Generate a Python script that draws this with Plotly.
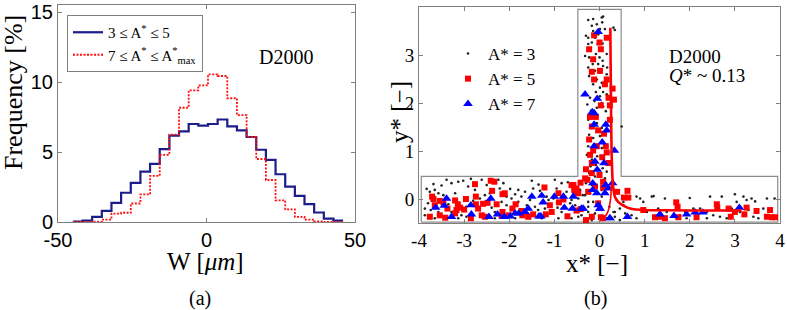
import plotly.graph_objects as go

# ---------------- panel (a): histogram of W ----------------
bin_edges = [-45.0, -41.75, -38.5, -35.25, -32.0, -28.75, -25.5, -22.25, -19.0, -15.75,
             -12.5, -9.25, -6.0, -2.75, 0.5, 3.75, 7.0, 10.25, 13.5, 16.75,
             20.0, 23.25, 26.5, 29.75, 33.0, 36.25, 39.5, 42.75, 46.0]
freq_low = [0.02, 0.1, 0.36, 0.79, 1.37, 2.09, 2.8, 3.6, 4.15, 5.2, 6.17, 6.47, 7.0, 6.88,
            7.0, 7.32, 6.83, 6.55, 6.07, 5.16, 4.44, 3.41, 2.52, 1.87, 1.27, 0.68, 0.24, 0.1]
freq_high = [0.0, 0.0, 0.02, 0.17, 0.6, 0.66, 1.32, 1.97, 3.29, 4.8, 6.24, 8.16, 9.4, 9.76,
             10.55, 10.43, 8.84, 7.64, 6.07, 4.5, 3.0, 1.55, 0.9, 0.36, 0.17, 0.05, 0.0, 0.0]
a_xticks = [-50, 0, 50]
a_xticktext = ["-50", "0", "50"]
a_yticks = [0, 5, 10, 15]

# ---------------- panel (b): particle positions ----------------
dots_x = [-0.25, -0.14, 0.05, 0.08, -0.17, -0.06, 0.06, 0.01, -0.14, -0.3, -0.25, -0.1, -0.03, 0.31, 0.34, 0.12,
          -0.25, -0.17, -0.04, 0.07, -0.32, -0.23, -0.08, 0.0, 0.07, 0.16, -0.15, -0.03, 0.08, 0.17, -0.25, -0.1,
          0.01, 0.16, -0.23, -0.06, 0.05, 0.16, -0.14, 0.01, -0.08, 0.08, 0.16, -0.21, -0.11, 0.01, 0.05, 0.08,
          0.14, -0.27, -0.19, -0.06,
          -0.25, -0.17, -0.06, 0.05, -0.23, -0.14, 0.01, 0.12, -0.25, -0.1, 0.05, 0.16, -0.28, -0.17, -0.05, -0.2,
          -0.08, 0.07, -0.23, -0.1, 0.01, 0.16, -0.3, -0.17, -0.43, -0.37, -0.21, -0.06, 0.05, 0.16, -0.14, -0.03,
          -0.25, -0.36, -0.1, 0.05, 0.22, 0.31, -0.47, -0.17, 0.16, 0.49, 0.38, 0.53, 0.82, 0.34, 0.45,
          -3.83, -3.76, -3.65, -3.57, -3.39, -3.28, -3.13, -3.02, -2.91, -2.61, -2.5, -2.24, -2.13, -2.21, -1.98,
          -1.87, -1.8, -1.65, -1.5, -1.47, -1.32, -1.17, -0.99, -0.95, -0.84, -0.73, -0.65, -3.8, -3.87, -3.74,
          -3.57, -3.35, -3.28, -3.06, -2.95, -2.8, -2.65, -2.54, -2.39, -2.32, -2.17, -2.06, -1.95, -1.8, -1.61,
          -1.54, -1.43, -1.36, -1.13, -1.02, -0.93, -0.84, -0.73, -0.62, -0.47, -0.4, -3.87, -3.65, -3.13, -2.95,
          -2.32, -1.87, -1.54, -1.28, -0.91, -0.62, -0.54, -0.47, -0.32, -0.25, -0.25, -0.17, -3.46, -3.2, -2.76,
          -2.43, -1.73, -1.21, -2.06, -3.68, -3.5, -2.85, -1.35, -0.7,
          0.12, 0.08, 0.05, 0.42, 0.53, 0.57, 0.71, 0.9, 0.97, 1.16, 1.3, 1.45, 1.49, 1.78, 1.9, 2.08, 2.23,
          2.38, 2.52, 2.6, 2.67, 2.71, 2.82, 2.93, 3.11, 3.19, 3.26, 3.3, 3.37, 3.41, 3.52, 3.63, 3.71, 3.88,
          3.04, 2.38, 1.93, 1.71, 1.05, 0.82, 0.45, 0.34, 2.45, 3.0, 3.45, 1.2, 2.0]
dots_y = [3.73, 3.75, 3.78, 3.8, 3.61, 3.64, 3.68, 3.54, 3.5, 3.4, 3.36, 3.36, 3.43, 3.57, 3.52, 3.54,
          3.23, 3.26, 3.23, 3.24, 2.98, 2.95, 3.02, 2.95, 2.88, 3.02, 2.81, 2.81, 2.77, 2.74, 2.74, 2.67,
          2.63, 2.6, 2.56, 2.49, 2.42, 2.49, 2.39, 2.32, 2.23, 2.23, 2.18, 2.11, 2.04, 2.14, 2.0, 1.93,
          1.83, 1.97, 1.84, 1.9,
          1.65, 1.51, 1.58, 1.48, 1.34, 1.27, 1.31, 1.38, 1.1, 1.13, 1.06, 1.13, 0.92, 0.82, 0.89, 0.68,
          0.71, 0.64, 0.54, 0.47, 0.54, 0.57, 0.33, 0.29, 0.19, 0.08, 0.12, 0.15, 0.05, 0.12, -0.06, -0.13,
          -0.16, -0.23, -0.3, -0.23, -0.16, -0.27, -0.37, -0.44, -0.4, 1.51, -0.02, -0.06, 0.05, -0.37, -0.44,
          0.21, 0.15, 0.19, 0.12, 0.4, 0.33, 0.36, 0.38, 0.26, 0.4, 0.29, 0.4, 0.33, 0.22, 0.21,
          0.1, 0.19, 0.15, 0.38, 0.22, 0.17, 0.05, 0.4, 0.22, 0.33, 0.15, -0.09, -0.09, -0.2, -0.23,
          -0.27, -0.11, -0.27, -0.34, -0.16, -0.04, 0.01, 0.08, -0.18, -0.27, -0.06, -0.13, 0.01, -0.06, -0.13,
          -0.02, -0.16, -0.23, -0.02, 0.01, -0.18, -0.27, -0.34, -0.02, -0.27, -0.34, -0.34, -0.4, -0.4, -0.37,
          -0.4, -0.4, -0.4, -0.4, -0.4, -0.4, -0.13, 0.01, 0.08, -0.06, -0.27, -0.37, 0.08, 0.12, 0.19,
          0.12, 0.05, -0.2, 0.05, 0.31, 0.28, 0.42, 0.3, 0.35,
          0.43, 0.33, 0.19, 0.15, -0.13, -0.3, -0.34, 0.01, -0.06, 0.05, -0.2, 0.01, -0.27, -0.34, -0.27, -0.2, -0.2,
          -0.27, -0.34, -0.2, -0.37, 0.05, -0.4, -0.2, -0.27, 0.05, -0.02, -0.23, 0.01, -0.37, -0.4, -0.2, 0.01, 0.01,
          -0.06, -0.4, -0.4, -0.4, -0.27, -0.4, -0.2, -0.27, 0.05, 0.1, -0.05, 0.06, 0.02]

sq_x = [-0.12, 0.16, 0.0, -0.23, 0.03, -0.14, -0.17, 0.01, -0.12, 0.12, 0.16, 0.29, 0.2, 0.32, 0.03, 0.23,
        -0.21, -0.08, 0.23, -0.17, -0.03, 0.1, -0.23, -0.06, 0.14, -0.14, 0.16, -0.21, 0.06, -0.17, 0.2, -0.3,
        -0.17, 0.0, 0.08, -0.42, -0.59, -0.56, -0.25, -0.47, 0.39, 0.62, -0.03, -0.17, 0.03, 0.07,
        -2.76, -2.41, -2.33, -2.38, -2.15, -2.1, -2.74, -2.96, -3.2, -3.54, -3.71, -3.68, -3.46, -3.14, -2.74,
        -2.58, -2.48, -3.09, -3.37, -3.65, -3.17, -3.2, -3.0, -2.69, -2.61, -2.85, -2.28, -2.15, -1.93, -2.01,
        -1.86, -1.73, -1.71, -2.17, -3.76, -3.54, -3.42, -2.54, -1.58, -1.47, -1.19, -1.1, -1.22, -0.9, -0.91,
        -0.8, -0.58, -0.51, -0.54, -0.42, -1.06, -0.62, -0.32, -0.27, -0.1, 0.08, 0.64, -0.51, -0.71, -0.3,
        0.54, 0.97, 1.23, 1.34, 1.7, 1.73, 1.75, 2.15, 2.6, 2.61, 2.86, 2.91, 3.0, 3.21, 3.26, 3.48, 3.78,
        3.71, 3.82, 3.89, 1.45]
sq_y = [3.41, 3.36, 3.26, 3.12, 3.12, 2.91, 2.65, 2.67, 2.49, 2.39, 2.49, 2.3, 2.11, 2.07, 1.95, 1.95,
        1.71, 1.71, 1.65, 1.51, 1.43, 1.36, 1.24, 1.1, 1.1, 1.01, 0.97, 0.92, 0.87, 0.75, 0.75, 0.62,
        0.54, 0.5, 0.36, 0.34, 0.29, 0.19, 0.15, 0.12, 0.15, 0.17, -0.09, -0.37, -0.38, -0.4,
        0.31, 0.38, 0.36, 0.17, 0.1, 0.12, 0.05, 0.0, -0.03, -0.04, 0.05, 0.0, -0.07, -0.11, -0.11,
        -0.1, -0.08, -0.18, -0.2, -0.13, -0.23, -0.3, -0.22, -0.2, -0.34, -0.4, -0.11, -0.27, -0.2, -0.34,
        -0.11, -0.25, -0.34, -0.35, -0.37, -0.34, -0.39, -0.37, -0.37, -0.32, -0.32, -0.13, 0.24, -0.07, 0.12,
        -0.01, 0.29, 0.22, 0.14, -0.21, -0.27, 0.29, 0.43, 0.4, 0.26, 0.24, 0.03, -0.24, -0.36, -0.44,
        0.03, -0.23, -0.38, -0.37, -0.07, -0.16, -0.38, -0.38, -0.11, -0.18, -0.2, -0.37, -0.27, -0.32, -0.18,
        -0.25, -0.23, -0.37, -0.38, -0.38, -0.4]

tri_x = [-0.03, -0.32, -0.05, -0.16, -0.12, -0.12, 0.14, 0.16, 0.06, -0.12, 0.33, -0.1, 0.1, -0.05, -0.15,
         0.14, -0.15, -0.06, 0.2, -0.03, 0.01, 0.23, -0.4,
         -3.39, -3.44, -3.63, -3.28, -2.85, -2.84, -2.45, -2.41, -2.26, -2.11, -1.98, -1.87, -1.79, -1.65,
         -1.58, -1.5, -1.34, -1.3, -1.28, -1.25, -1.0, -0.8, -0.78, -0.58, -0.6, -0.36,
         0.29, 0.12, 0.23, 0.01, 0.62, 1.34, 1.65, 1.93, 2.12, 2.29, 3.1]
tri_y = [3.48, 2.18, 2.09, 1.81, 1.79, 1.55, 1.55, 1.43, 1.18, 1.1, 1.01, 0.78, 0.75, 0.61, 0.33,
         0.29, 0.19, 0.12, 0.22, -0.13, -0.2, -0.4, -0.2,
         0.01, -0.14, -0.18, -0.37, -0.13, -0.32, -0.37, 0.01, -0.32, -0.37, -0.36, -0.3, -0.3, -0.27,
         -0.2, 0.05, -0.36, -0.36, 0.07, -0.07, 0.05, 0.05, -0.18, 0.05, -0.2, -0.2,
         0.33, 0.12, -0.4, -0.2, -0.37, -0.32, -0.35, -0.32, -0.28, -0.28, -0.18]

# red trajectory (main path and lower branch)
path_x = [0.24, 0.25, 0.26, 0.27, 0.28, 0.29, 0.31, 0.34, 0.39, 0.45, 0.55, 0.68, 0.82, 0.97, 1.5, 2.5, 3.15]
path_y = [3.57, 2.5, 1.5, 0.9, 0.6, 0.4, 0.2, 0.05, -0.03, -0.09, -0.15, -0.2, -0.22, -0.23, -0.235, -0.24, -0.24]
branch_x = [0.26, 0.25, 0.22, 0.18, 0.13, 0.07, 0.02]
branch_y = [0.3, 0.05, -0.15, -0.28, -0.36, -0.42, -0.45]

# T-junction channel outline
chan_x = [-3.95, 3.95, 3.95, 0.48, 0.48, -0.48, -0.48, -3.95, -3.95]
chan_y = [-0.48, -0.48, 0.47, 0.47, 3.95, 3.95, 0.47, 0.47, -0.48]

b_xticks = [-4, -3, -2, -1, 0, 1, 2, 3, 4]
b_xticktext = ["-4", "-3", "-2", "-1", "0", "1", "2", "3", "4"]
b_yticks = [0, 1, 2, 3, 4]

W, H = 787, 310
def px(x):
    return x / W
def py(y):
    return 1 - y / H

FRAME = "#808080"
TIMES = "Liberation Serif, Times New Roman, serif"
ARIAL = "Liberation Sans, Arial, sans-serif"

fig = go.Figure()

fig.add_trace(go.Scatter(x=bin_edges, y=freq_low + [freq_low[-1]], mode="lines", line_shape="hv",
                         line=dict(color="#1c1c8a", width=2.2),
                         name="3 ≤ A<sup>*</sup> ≤ 5", legend="legend", xaxis="x", yaxis="y"))
fig.add_trace(go.Scatter(x=bin_edges, y=freq_high + [freq_high[-1]], mode="lines", line_shape="hv",
                         line=dict(color="#ff1010", width=1.8, dash="2px,1.5px"),
                         name="7 ≤ A<sup>*</sup> ≤ A<sup>*</sup><sub>max</sub>", legend="legend",
                         xaxis="x", yaxis="y"))

fig.add_trace(go.Scatter(x=chan_x, y=chan_y, mode="lines", line=dict(color="#8c8c8c", width=1.2),
                         showlegend=False, xaxis="x2", yaxis="y2", hoverinfo="skip"))
fig.add_trace(go.Scatter(x=dots_x, y=dots_y, mode="markers",
                         marker=dict(color="#222222", size=2.6, symbol="circle"),
                         name="A* = 3", legend="legend2", xaxis="x2", yaxis="y2"))
fig.add_trace(go.Scatter(x=sq_x, y=sq_y, mode="markers",
                         marker=dict(color="#ff0000", size=6, symbol="square"),
                         name="A* = 5", legend="legend2", xaxis="x2", yaxis="y2"))
fig.add_trace(go.Scatter(x=tri_x, y=tri_y, mode="markers",
                         marker=dict(color="#0000ff", size=8.5, symbol="triangle-up"),
                         name="A* = 7", legend="legend2", xaxis="x2", yaxis="y2"))
fig.add_trace(go.Scatter(x=path_x, y=path_y, mode="lines", line=dict(color="#ff0000", width=2.6, shape="spline"),
                         showlegend=False, xaxis="x2", yaxis="y2"))
fig.add_trace(go.Scatter(x=branch_x, y=branch_y, mode="lines", line=dict(color="#ff0000", width=1.6, shape="spline"),
                         showlegend=False, xaxis="x2", yaxis="y2"))

axis_common = dict(showgrid=False, zeroline=False, showline=True, linecolor=FRAME, linewidth=1,
                   mirror="ticks", ticks="inside", ticklen=4, tickcolor=FRAME, automargin=False)

fig.update_layout(
    template="none",
    width=W, height=H, margin=dict(l=0, r=0, t=0, b=0, autoexpand=False),
    paper_bgcolor="white", plot_bgcolor="white", hovermode=False,
    xaxis=dict(domain=[px(58), px(355)], range=[-50, 50], tickvals=a_xticks, ticktext=a_xticktext,
               tickfont=dict(family=ARIAL, size=20, color="black"), anchor="y", **axis_common),
    yaxis=dict(domain=[py(222), py(5)], range=[0, 15.5], tickvals=a_yticks,
               tickfont=dict(family=ARIAL, size=20, color="black"), anchor="x", **axis_common),
    xaxis2=dict(domain=[px(419), px(780)], range=[-4, 4], tickvals=b_xticks, ticktext=b_xticktext,
                tickfont=dict(family=TIMES, size=19, color="black"), anchor="y2", **axis_common),
    yaxis2=dict(domain=[py(223), py(7)], range=[-0.5, 4], tickvals=b_yticks,
                tickfont=dict(family=TIMES, size=19, color="black"), anchor="x2", **axis_common),
    legend=dict(x=px(67), y=py(15), xanchor="left", yanchor="top", bgcolor="white",
                bordercolor="#808080", borderwidth=1, font=dict(family=TIMES, size=15, color="black"),
                tracegroupgap=0),
    legend2=dict(x=px(448), y=py(36), xanchor="left", yanchor="top", bgcolor="rgba(0,0,0,0)",
                 borderwidth=0, font=dict(family=TIMES, size=17, color="black")),
    showlegend=True,
)

ann = [
    dict(text="Frequency [%]", x=px(13), y=py(93), textangle=-90, font=dict(family=TIMES, size=26)),
    dict(text="W [<i>μm</i>]", x=px(205), y=py(261), font=dict(family=TIMES, size=25)),
    dict(text="(a)", x=px(200), y=py(298), font=dict(family=TIMES, size=20)),
    dict(text="D2000", x=px(286), y=py(57), font=dict(family=TIMES, size=20)),
    dict(text="y* [−]", x=px(399), y=py(112), textangle=-90, font=dict(family=TIMES, size=25)),
    dict(text="x* [−]", x=px(597), y=py(263), font=dict(family=TIMES, size=25)),
    dict(text="(b)", x=px(595), y=py(298), font=dict(family=TIMES, size=20)),
    dict(text="D2000", x=px(667), y=py(57), xanchor="left", font=dict(family=TIMES, size=19)),
    dict(text="<i>Q</i>* ~ 0.13", x=px(667), y=py(75), xanchor="left", font=dict(family=TIMES, size=19)),
]
for a in ann:
    a.setdefault("xanchor", "center")
    fig.add_annotation(xref="paper", yref="paper", showarrow=False, yanchor="middle",
                       font_color="black", **a)

fig.write_html("out.html", config={"displayModeBar": False},
               post_script="document.body.style.margin='0';")
